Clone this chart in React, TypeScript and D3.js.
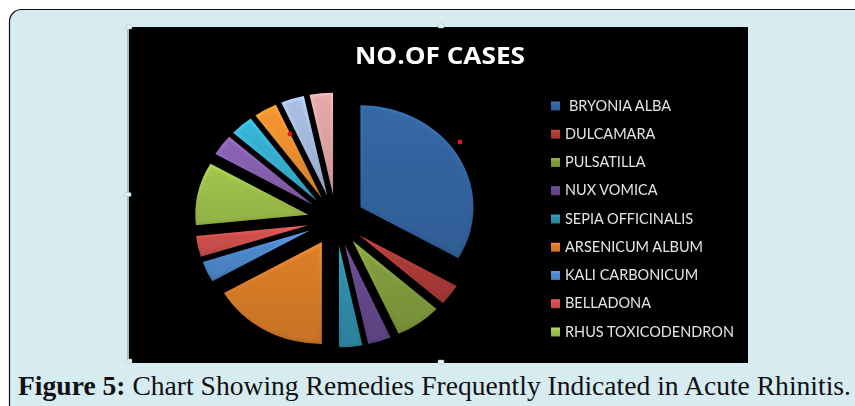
import React from "react";
import * as d3 from "d3";

const W = 855;
const H = 406;

const sliceValues = [10, 1, 2, 1, 1, 5, 1, 1, 3, 1, 1, 1, 1, 1];
const legendLabels = [
  " BRYONIA ALBA",
  "DULCAMARA",
  "PULSATILLA",
  "NUX VOMICA",
  "SEPIA OFFICINALIS",
  "ARSENICUM ALBUM",
  "KALI CARBONICUM",
  "BELLADONA",
  "RHUS TOXICODENDRON",
];
const sliceColors = [
  "#33649f", "#a93a37", "#7f9a3c", "#64478a", "#2f8ba6", "#d57a28", "#4d86c9",
  "#cc4f4c", "#9cbe4a", "#8660ae", "#36aed0", "#ee8f2e", "#a3b9dc", "#dca3a2",
];

const cx = 336;
const cy = 220;
const rx = 113;
const ry = 102;
const explode = 0.25;

const redDots = [
  { x: 460, y: 142 },
  { x: 290, y: 134 },
];

export default function App() {
  const arcs = d3.pie<number>().sort(null)(sliceValues);
  const unitArc = d3.arc<d3.PieArcDatum<number>>().innerRadius(0).outerRadius(100);
  const legendY = d3.scalePoint<string>().domain(legendLabels).range([106, 332]);

  return (
    <svg
      width={W}
      height={H}
      style={{ position: "absolute", left: 0, top: 0, background: "#fff" }}
    >
      <defs>
        <filter id="inner" x="-10%" y="-10%" width="120%" height="120%">
          <feMorphology in="SourceAlpha" operator="erode" radius="1.6" result="e" />
          <feGaussianBlur in="e" stdDeviation="0.9" result="b" />
          <feComposite in="SourceGraphic" in2="b" operator="in" />
        </filter>
        <filter id="soft" x="-5%" y="-5%" width="110%" height="110%">
          <feGaussianBlur stdDeviation="0.5" />
        </filter>
        {sliceColors.map((c, i) => (
          <React.Fragment key={c}>
            <linearGradient id={`main${i}`} x1="0" y1="0" x2="0" y2="1">
              <stop offset="0" stopColor={d3.rgb(c).brighter(0.12).formatHex()} />
              <stop offset="1" stopColor={d3.rgb(c).darker(0.2).formatHex()} />
            </linearGradient>
            <linearGradient id={`edge${i}`} x1="0" y1="0" x2="0" y2="1">
              <stop offset="0" stopColor={d3.rgb(c).brighter(0.45).formatHex()} />
              <stop offset="1" stopColor={d3.rgb(c).darker(0.45).formatHex()} />
            </linearGradient>
          </React.Fragment>
        ))}
      </defs>

      <rect x={9.5} y={9.5} width={900} height={430} rx={12} fill="#d7ecf1" stroke="#111" strokeWidth={1.2} />

      <rect x={129} y={27} width={619} height={336} fill="#000" />
      <line x1={128} y1={28} x2={128} y2={361} stroke="#7f9fb5" strokeWidth={1.2} />
      {[[128, 194.5], [129, 27], [129, 361], [441, 26], [441, 362]].map(([x, y]) => (
        <rect key={`${x}-${y}`} x={x - 3} y={y - 2} width={6} height={4} rx={1} fill="#e6f1f6" stroke="#9db8c8" strokeWidth={0.5} />
      ))}

      <text x={355} y={64} fontFamily="'Open Sans', Lato, sans-serif" fontWeight={700} fontSize={24} fill="#fff" filter="url(#soft)" textLength={170} lengthAdjust="spacingAndGlyphs">
        NO.OF CASES
      </text>

      <g filter="url(#soft)">
        {arcs.map((a, i) => {
          const mid = (a.startAngle + a.endAngle) / 2;
          const dx = Math.sin(mid) * explode * rx;
          const dy = -Math.cos(mid) * explode * ry;
          const d = unitArc(a) as string;
          const t = `translate(${cx + dx},${cy + dy}) scale(${rx / 100},${ry / 100})`;
          return (
            <g key={i} transform={t}>
              <path d={d} fill={`url(#edge${i})`} />
              <path d={d} fill={`url(#main${i})`} filter="url(#inner)" />
            </g>
          );
        })}
      </g>

      {redDots.map((p) => (
        <circle key={p.x} cx={p.x} cy={p.y} r={2.4} fill="#e8151b" />
      ))}

      {legendLabels.map((label, i) => {
        const y = legendY(label) as number;
        return (
          <g key={label}>
            <rect x={551} y={y - 4.5} width={9} height={9} fill={`url(#edge${i})`} />
            <rect x={552} y={y - 1.5} width={7} height={5} fill={sliceColors[i]} />
            <text
              x={i === 0 ? 569 : 565}
              y={y + 4.5}
              fontFamily="Lato, 'Open Sans', sans-serif"
              fontSize={14.5}
              fill="#e4e4e4"
              filter="url(#soft)"
            >
              {label.trim()}
            </text>
          </g>
        );
      })}

      <text x={18} y={395} fontFamily="'Liberation Serif', serif" fontSize={27} fill="#111" textLength={833} lengthAdjust="spacingAndGlyphs">
        <tspan fontWeight={700}>Figure 5:</tspan> Chart Showing Remedies Frequently Indicated in Acute Rhinitis.
      </text>
    </svg>
  );
}
